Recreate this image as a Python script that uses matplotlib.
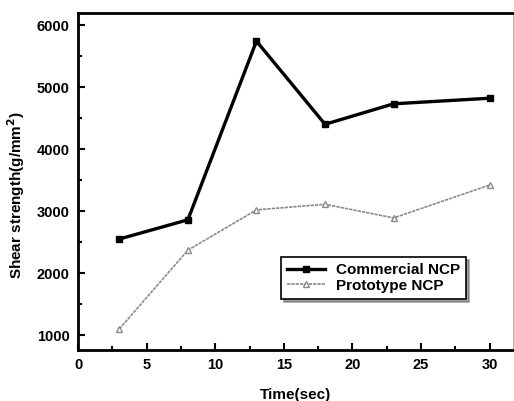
import matplotlib
matplotlib.use('Agg')
import matplotlib.pyplot as plt
from matplotlib.ticker import MultipleLocator

plt.rcParams['font.family'] = ['Liberation Sans', 'DejaVu Sans']
plt.rcParams['font.weight'] = 'bold'

time_sec = [3, 8, 13, 18, 23, 30]
commercial = [2550, 2860, 5740, 4400, 4730, 4820]
prototype = [1100, 2370, 3020, 3110, 2890, 3420]

fig = plt.figure(figsize=(5.14, 4.01), dpi=100)
ax = fig.add_axes([0.152, 0.127, 0.846, 0.840])

ax.plot(time_sec, commercial, color='black', lw=2.4, marker='s', ms=4.5,
        mfc='black', mec='black', label='Commercial NCP')
ax.plot(time_sec, prototype, color='#8a8a8a', lw=1.2, ls=(0, (2, 0.6)), marker='^', ms=4,
        mfc='white', mec='#8a8a8a', label='Prototype NCP')

ax.set_xlim(0, 31.7)
ax.set_ylim(760, 6190)
ax.xaxis.set_major_locator(MultipleLocator(5))
ax.xaxis.set_minor_locator(MultipleLocator(2.5))
ax.yaxis.set_major_locator(MultipleLocator(1000))
ax.yaxis.set_minor_locator(MultipleLocator(500))
ax.tick_params(which='both', direction='in', top=False, right=False, width=1.5)
ax.tick_params(which='major', length=5, labelsize=10.5, pad=6)
ax.tick_params(which='minor', length=3)
for lbl in ax.get_xticklabels() + ax.get_yticklabels():
    lbl.set_fontweight('bold')

for side in ['left', 'bottom', 'top']:
    ax.spines[side].set_linewidth(2)
ax.spines['right'].set_linewidth(0.6)
ax.spines['right'].set_color('#aaaaaa')

ax.set_xlabel('Time(sec)', fontsize=11, fontweight='bold', labelpad=11)
ax.set_ylabel('Shear strength(g/mm$^\\mathbf{2}$)', fontsize=11, fontweight='bold')
ax.yaxis.set_label_coords(-0.117, 0.46)

leg = ax.legend(loc='upper left', bbox_to_anchor=(0.466, 0.276), fontsize=11,
                frameon=True, fancybox=False, shadow=True, edgecolor='black',
                handlelength=2.5, borderpad=0.4, labelspacing=0.1,
                handletextpad=0.7, borderaxespad=0)
leg.get_frame().set_linewidth(1.2)
for t in leg.get_texts():
    t.set_fontweight('bold')

fig.savefig('out.png', dpi=100, facecolor='white')
